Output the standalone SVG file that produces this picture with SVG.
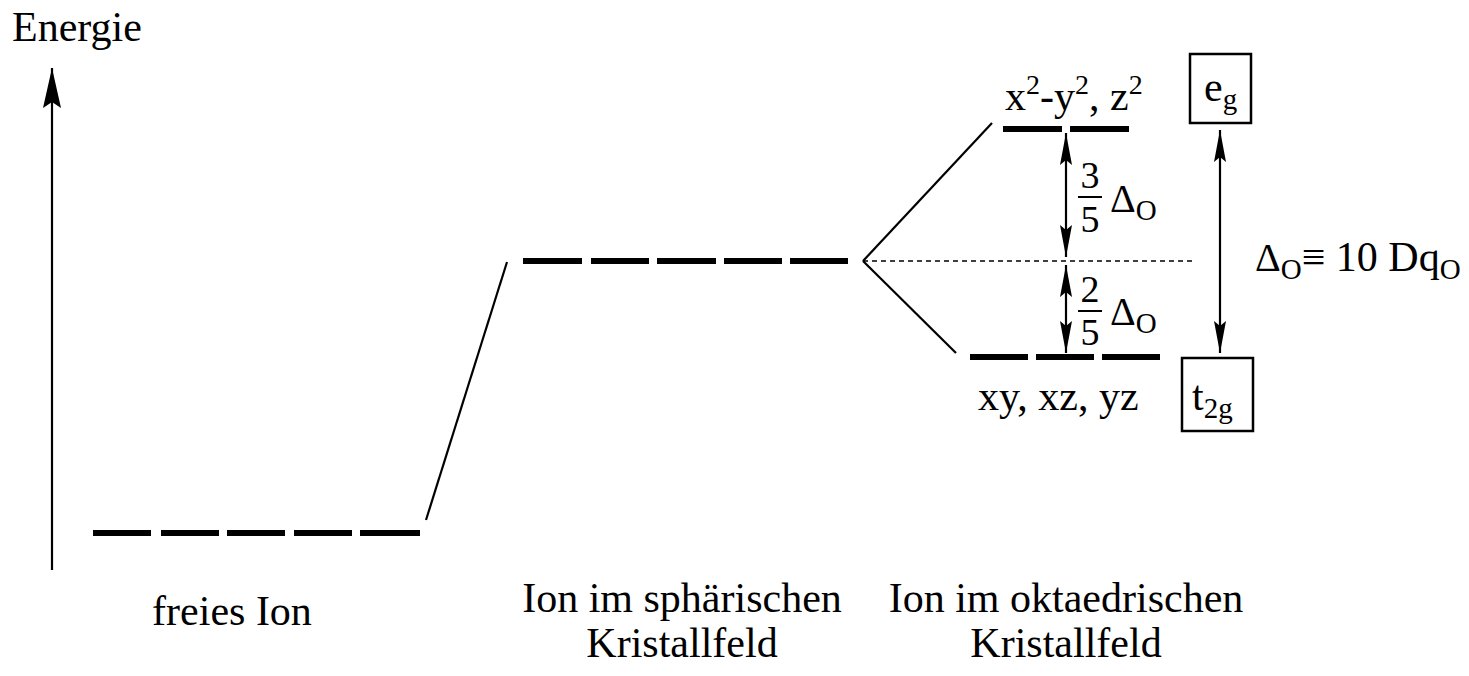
<svg xmlns="http://www.w3.org/2000/svg" width="1469" height="676" viewBox="0 0 1469 676">
<style>
text{font-family:"Liberation Serif","Times New Roman",serif;font-size:42px;fill:#000}
.lvl{stroke:#000;stroke-width:6;fill:none}
.ln{stroke:#000;stroke-width:2.2;fill:none}
.box{stroke:#000;stroke-width:2.5;fill:#fff}
.sup{font-size:28px}
.sub{font-size:29px}
.dl{font-size:40px}
.fr{font-size:38px}
.fl{stroke:#000;stroke-width:2}
</style>
<defs>
<marker id="ah" viewBox="0 0 32 12" refX="32" refY="6" markerWidth="32" markerHeight="12" markerUnits="userSpaceOnUse" orient="auto-start-reverse">
<path d="M32,6 L0,0 L5,6 L0,12 Z" fill="#000"/>
</marker>
<marker id="ah2" viewBox="0 0 40 18" refX="40" refY="9" markerWidth="40" markerHeight="18" markerUnits="userSpaceOnUse" orient="auto">
<path d="M40,9 L0,0 L6,9 L0,18 Z" fill="#000"/>
</marker>
</defs>
<rect width="1469" height="676" fill="#fff"/>
<g id="axis">
<line class="ln" x1="52" y1="570" x2="52" y2="68" marker-end="url(#ah2)"/>
<text x="12" y="41">Energie</text>
</g>
<g id="free-ion">
<path class="lvl" d="M93,533H151M161,533H219M227,533H285M294,533H352M360,533H420"/>
<text x="232" y="625" text-anchor="middle">freies Ion</text>
</g>
<g id="spherical">
<path class="lvl" d="M523,261H582M591,261H649M657,261H716M724,261H782M790,261H848"/>
<text x="682" y="612" text-anchor="middle">Ion im sphärischen</text>
<text x="682" y="657" text-anchor="middle">Kristallfeld</text>
</g>
<g id="eg-level">
<path class="lvl" d="M1003,129H1062M1070,129H1129"/>
<text x="1005" y="110">x<tspan class="sup" dy="-16">2</tspan><tspan dy="16">-y</tspan><tspan class="sup" dy="-16">2</tspan><tspan dy="16">, z</tspan><tspan class="sup" dy="-16">2</tspan></text>
</g>
<g id="t2g-level">
<path class="lvl" d="M970,357H1028M1036,357H1094M1102,357H1160"/>
<text x="978" y="410">xy, xz, yz</text>
</g>
<g id="octahedral-label">
<text x="1066" y="612" text-anchor="middle">Ion im oktaedrischen</text>
<text x="1066" y="657" text-anchor="middle">Kristallfeld</text>
</g>
<g id="eg-box">
<rect class="box" x="1190" y="54" width="61" height="69"/>
<text x="1204" y="101">e<tspan class="sub" dy="8">g</tspan></text>
</g>
<g id="t2g-box">
<rect class="box" x="1182" y="358" width="71" height="73"/>
<text x="1192" y="410">t<tspan class="sub" dy="8">2g</tspan></text>
</g>
<g id="fraction-upper">
<text class="fr" x="1090" y="188" text-anchor="middle">3</text>
<line class="fl" x1="1078" y1="197" x2="1102" y2="197"/>
<text class="fr" x="1090" y="232" text-anchor="middle">5</text>
<text class="dl" x="1110" y="212">Δ<tspan class="sub" dy="8">O</tspan></text>
</g>
<g id="fraction-lower">
<text class="fr" x="1090" y="302" text-anchor="middle">2</text>
<line class="fl" x1="1078" y1="311" x2="1102" y2="311"/>
<text class="fr" x="1090" y="345" text-anchor="middle">5</text>
<text class="dl" x="1110" y="325">Δ<tspan class="sub" dy="8">O</tspan></text>
</g>
<g id="delta-label">
<text x="1255" y="271"><tspan class="dl">Δ</tspan><tspan class="sub" dy="8">O</tspan><tspan dy="-8">≡ 10 Dq</tspan><tspan class="sub" dy="8">O</tspan></text>
</g>
<g id="connectors">
<line class="ln" x1="426" y1="520" x2="507" y2="262"/>
<line class="ln" x1="992" y1="123" x2="863" y2="261"/>
<line class="ln" x1="863" y1="261" x2="956" y2="353"/>
<line x1="863" y1="261" x2="1195" y2="261" stroke="#000" stroke-width="1.5" stroke-dasharray="5,4"/>
<line class="ln" x1="1066" y1="133" x2="1066" y2="257" marker-start="url(#ah)" marker-end="url(#ah)"/>
<line class="ln" x1="1066" y1="265" x2="1066" y2="353" marker-start="url(#ah)" marker-end="url(#ah)"/>
<line class="ln" x1="1220" y1="130" x2="1220" y2="353" marker-start="url(#ah)" marker-end="url(#ah)"/>
</g>
</svg>
